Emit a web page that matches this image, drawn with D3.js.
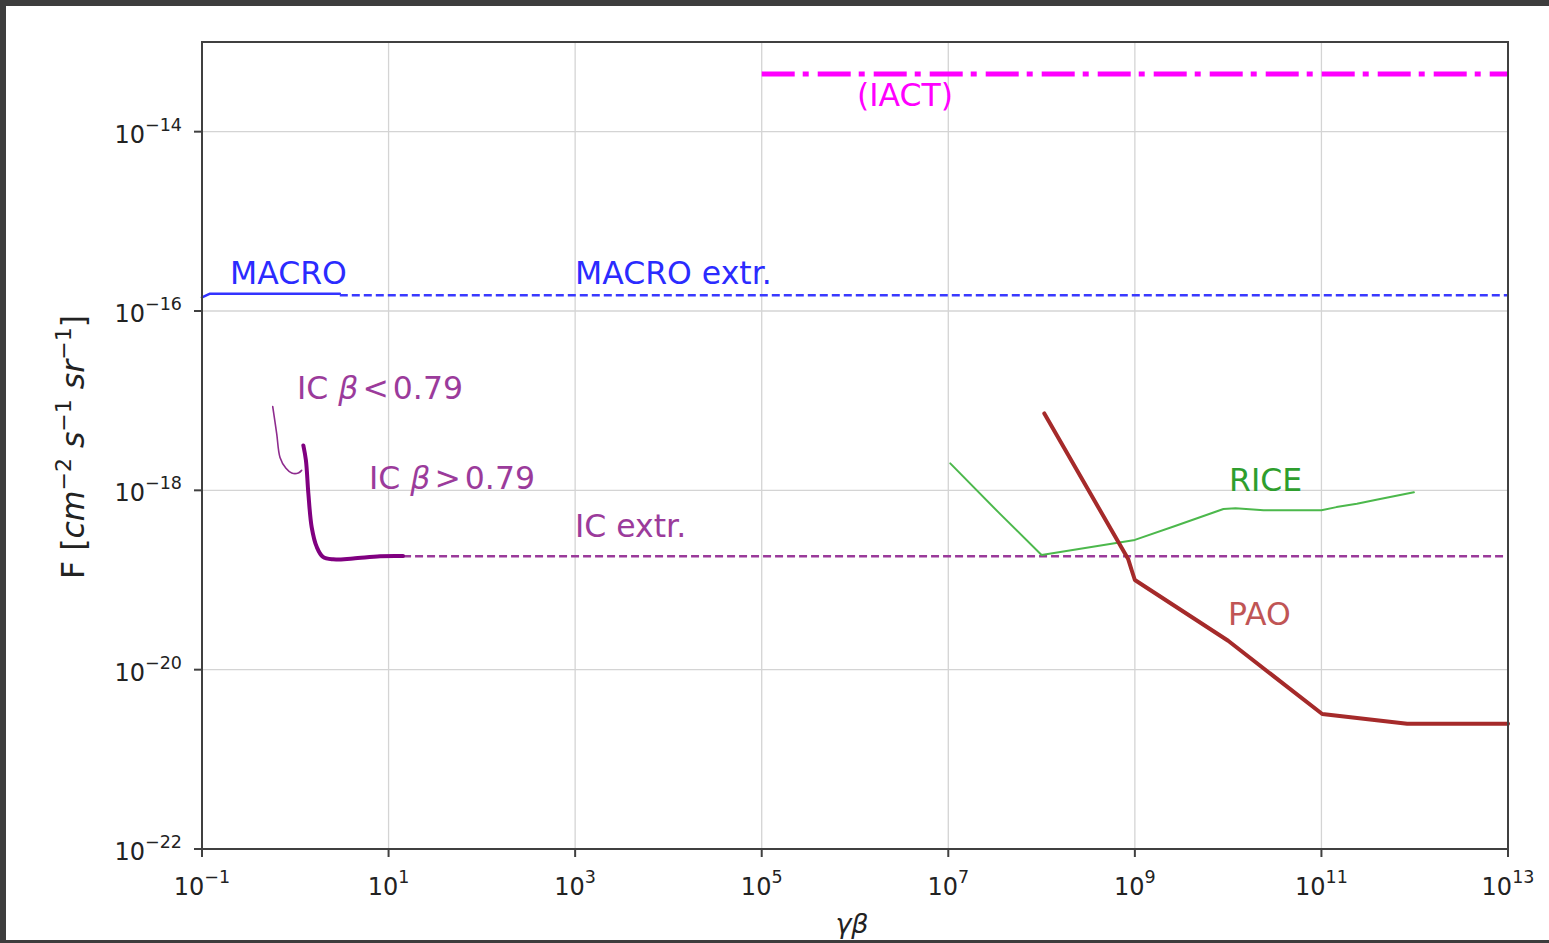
<!DOCTYPE html>
<html>
<head>
<meta charset="utf-8">
<script src="https://cdn.jsdelivr.net/npm/d3@7"></script>
<style>
  html, body { margin: 0; padding: 0; background: #fff; }
  svg { display: block; font-family: "DejaVu Sans", sans-serif; }
</style>
</head>
<body>
<svg id="chart" width="1549" height="943"></svg>
<script>
// Flux limits on monopoles vs gamma*beta
const xTickExps = [-1, 1, 3, 5, 7, 9, 11, 13];
const yTickExps = [-22, -20, -18, -16, -14];

const iactX = [1e5, 1e13];
const iactY = [4.4e-14, 4.4e-14];

const macroX = [0.1, 0.122, 3.0];
const macroY = [1.42e-16, 1.56e-16, 1.56e-16];
const macroExtX = [3.0, 1e13];
const macroExtY = [1.5e-16, 1.5e-16];

const icLowX = [0.573, 0.632, 0.686, 0.794, 0.916, 1.077, 1.17];
const icLowY = [8.6e-18, 4.3e-18, 2.33e-18, 1.76e-18, 1.56e-18, 1.56e-18, 1.67e-18];

const icHighX = [1.22, 1.30, 1.38, 1.50, 1.70, 1.98, 2.54, 4.16, 8.1, 14.3];
const icHighY = [3.17e-18, 2.16e-18, 9.3e-19, 3.87e-19, 2.33e-19, 1.81e-19, 1.70e-19, 1.74e-19, 1.84e-19, 1.85e-19];

const icExtX = [14.3, 1e13];
const icExtY = [1.84e-19, 1.84e-19];

const riceX = [1.05e7, 3.5e7, 1.0e8, 1e9, 2.7e9, 8.9e9, 1.2e10, 2.4e10, 1e11, 1.45e11, 2.4e11, 4e11, 9.8e11];
const riceY = [2.0e-18, 5.6e-19, 1.9e-19, 2.8e-19, 4.0e-19, 6.2e-19, 6.3e-19, 6.0e-19, 6.0e-19, 6.5e-19, 7.1e-19, 7.9e-19, 9.5e-19];

const paoX = [1.07e8, 8.5e8, 9.3e8, 1e9, 1e10, 1.02e11, 8.3e11, 1e13];
const paoY = [7.2e-18, 1.7e-19, 1.26e-19, 1.0e-19, 2.1e-20, 3.2e-21, 2.5e-21, 2.5e-21];

const W = 1549, H = 943;
const plotL = 202, plotR = 1508, plotT = 42, plotB = 849;

const svg = d3.select("#chart");
svg.append("rect").attr("width", W).attr("height", H).attr("fill", "#fff");

const x = d3.scaleLog().domain([1e-1, 1e13]).range([plotL, plotR]);
const y = d3.scaleLog().domain([1e-22, 1e-13]).range([plotB, plotT]);

// grid
const grid = svg.append("g");
xTickExps.forEach(e => {
  grid.append("line")
    .attr("x1", x(Math.pow(10, e))).attr("x2", x(Math.pow(10, e)))
    .attr("y1", plotT).attr("y2", plotB)
    .attr("stroke", "#d4d4d4").attr("stroke-width", 1.3);
});
yTickExps.forEach(e => {
  grid.append("line")
    .attr("x1", plotL).attr("x2", plotR)
    .attr("y1", y(Math.pow(10, e))).attr("y2", y(Math.pow(10, e)))
    .attr("stroke", "#d4d4d4").attr("stroke-width", 1.3);
});

const plot = svg.append("g");
function series(xs, ys) { return xs.map((v, i) => [v, ys[i]]); }
function draw(xs, ys, color, width, dash, curve) {
  const line = d3.line().x(d => x(d[0])).y(d => y(d[1])).curve(curve || d3.curveLinear);
  const p = plot.append("path")
    .datum(series(xs, ys))
    .attr("d", line)
    .attr("fill", "none")
    .attr("stroke", color)
    .attr("stroke-width", width)
    .attr("stroke-linejoin", "round")
    .attr("stroke-linecap", dash ? "butt" : "round");
  if (dash) p.attr("stroke-dasharray", dash);
  return p;
}

draw(iactX, iactY, "#ff00ff", 5, "33 8 6 9");
draw(macroX, macroY, "#3333ff", 2.6);
draw(macroExtX, macroExtY, "#3a3aff", 2.4, "8 4");
draw(icExtX, icExtY, "#9a3a9a", 2.4, "8 4");
draw(icLowX, icLowY, "#8e2c8e", 1.6, null, d3.curveCatmullRom);
draw(icHighX, icHighY, "#800080", 4, null, d3.curveCatmullRom);
draw(riceX, riceY, "#4cb84c", 2);
draw(paoX, paoY, "#a52a2a", 4);

// series labels
const labels = svg.append("g").attr("font-size", 31.5);
labels.append("text").attr("x", 857).attr("y", 106).attr("fill", "#ff00ff").text("(IACT)");
labels.append("text").attr("x", 230).attr("y", 284).attr("fill", "#2b2bff").text("MACRO");
labels.append("text").attr("x", 575).attr("y", 284).attr("fill", "#2b2bff").text("MACRO extr.");

function icLabel(xp, yp, op) {
  const t = labels.append("text").attr("x", xp).attr("y", yp).attr("fill", "#9b3b9b");
  t.append("tspan").text("IC ");
  t.append("tspan").attr("font-style", "italic").text("β");
  t.append("tspan").attr("dx", 4).text(op);
  t.append("tspan").attr("dx", 4).text("0.79");
}
icLabel(297, 399, "<");
icLabel(369, 489, ">");
labels.append("text").attr("x", 575).attr("y", 537).attr("fill", "#9b3b9b").text("IC extr.");
labels.append("text").attr("x", 1229).attr("y", 491).attr("fill", "#2e9e2e").text("RICE");
labels.append("text").attr("x", 1228).attr("y", 625).attr("fill", "#c05555").text("PAO");

// axes frame
const axisColor = "#404040";
svg.append("rect")
  .attr("x", plotL).attr("y", plotT)
  .attr("width", plotR - plotL).attr("height", plotB - plotT)
  .attr("fill", "none").attr("stroke", axisColor).attr("stroke-width", 2);

// ticks and tick labels
const ticks = svg.append("g").attr("fill", "#222").attr("font-size", 24);
xTickExps.forEach(e => {
  const px = x(Math.pow(10, e));
  ticks.append("line").attr("x1", px).attr("x2", px).attr("y1", plotB).attr("y2", plotB + 8)
    .attr("stroke", axisColor).attr("stroke-width", 2);
  const t = ticks.append("text").attr("x", px).attr("y", 895).attr("text-anchor", "middle");
  t.append("tspan").text("10");
  t.append("tspan").attr("dy", -12).attr("font-size", 17.5).text(String(e).replace("-", "−"));
});
yTickExps.forEach(e => {
  const py = y(Math.pow(10, e));
  ticks.append("line").attr("x1", plotL - 8).attr("x2", plotL).attr("y1", py).attr("y2", py)
    .attr("stroke", axisColor).attr("stroke-width", 2);
  const t = ticks.append("text").attr("x", 182).attr("y", py + 11).attr("text-anchor", "end");
  t.append("tspan").text("10");
  t.append("tspan").attr("dy", -12).attr("font-size", 17.5).text(String(e).replace("-", "−"));
});

// axis titles
const yl = svg.append("text")
  .attr("transform", "translate(84,447) rotate(-90)")
  .attr("text-anchor", "middle").attr("font-size", 31.5).attr("fill", "#222");
yl.append("tspan").text("F [");
yl.append("tspan").attr("font-style", "italic").text("cm");
yl.append("tspan").attr("dy", -13).attr("font-size", 22).text("−2");
yl.append("tspan").attr("dy", 13).text(" ");
yl.append("tspan").attr("font-style", "italic").text("s");
yl.append("tspan").attr("dy", -13).attr("font-size", 22).text("−1");
yl.append("tspan").attr("dy", 13).text(" ");
yl.append("tspan").attr("font-style", "italic").text("sr");
yl.append("tspan").attr("dy", -13).attr("font-size", 22).text("−1");
yl.append("tspan").attr("dy", 13).text("]");

svg.append("text").attr("x", 852).attr("y", 933).attr("text-anchor", "middle")
  .attr("font-size", 27).attr("font-style", "italic").attr("fill", "#222").text("γβ");

// dark surround
svg.append("rect").attr("x", 0).attr("y", 0).attr("width", W).attr("height", 6).attr("fill", "#3d3d3d");
svg.append("rect").attr("x", 0).attr("y", 0).attr("width", 6).attr("height", H).attr("fill", "#3d3d3d");
svg.append("rect").attr("x", 0).attr("y", 940).attr("width", W).attr("height", 3).attr("fill", "#3d3d3d");
</script>
</body>
</html>
